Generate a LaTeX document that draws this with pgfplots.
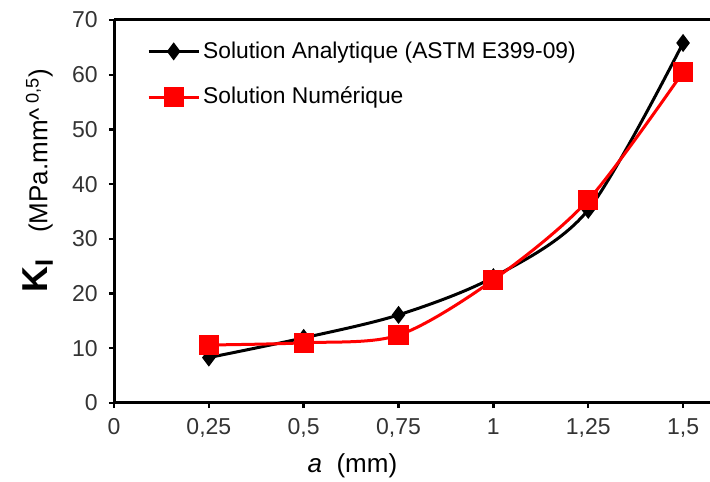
\documentclass[border=0pt]{standalone}
\usepackage{pgfplots}
\pgfplotsset{compat=1.18}
\usepackage{fontspec}
\setmainfont{Liberation Sans}

\begin{document}
\begin{tikzpicture}
\begin{axis}[
  scale only axis,
  width=298pt, height=191.5pt,
  xmin=0, xmax=1.571, ymin=0, ymax=70,
  axis x line*=box, axis y line*=left,
  xtick pos=bottom,
  xtick={0,0.25,0.5,0.75,1,1.25,1.5},
  ytick={0,10,20,30,40,50,60,70},
  tick align=outside, major tick length=2.6pt,
  every tick/.style={black, line width=1.2pt},
  axis line style={line width=1.5pt},
  /pgf/number format/use comma,
  /pgf/number format/assume math mode=true,
  tick label style={font=\fontsize{11.5}{13}\selectfont, text=black!80},
  xticklabel style={yshift=-1.5pt},
  yticklabel style={xshift=-2pt},
  xlabel={\textit{a}\ \ (mm)},
  xlabel style={at={(axis description cs:0.4,0)}, anchor=center, yshift=-31.5pt,
    font=\fontsize{13}{15}\selectfont},
  ylabel={{\fontsize{18}{18}\selectfont\bfseries K\textsubscript{I}}\quad (MPa.mm\textasciicircum\,\textsuperscript{0,5})},
  ylabel style={at={(axis description cs:-0.128,0.58)}, anchor=center,
    font=\fontsize{13}{15}\selectfont},
  legend style={at={(axis description cs:0.055,0.955)}, anchor=north west,
    draw=none, fill=none, font=\fontsize{11.4}{13}\selectfont, row sep=9pt,
    inner sep=0pt, nodes={inner xsep=1.5pt}},
  legend cell align=left,
  legend image code/.code={\draw[mark repeat=2,mark phase=2,#1]
    plot coordinates {(0pt,0pt) (12.5pt,0pt) (25pt,0pt)};},
]
\addplot[black, line width=1.5pt, smooth, mark=diamond*, mark size=3.3pt]
  coordinates {(0.25,8.3) (0.5,11.9) (0.75,16.1) (1,23.0) (1.25,35.3) (1.5,65.8)};
\addplot[red, line width=1.5pt, smooth, mark=square*, mark size=4.3pt]
  coordinates {(0.25,10.6) (0.5,11.0) (0.75,12.4) (1,22.5) (1.25,37.1) (1.5,60.5)};
\legend{Solution Analytique (ASTM E399-09), Solution Numérique}
\end{axis}
\pgfresetboundingbox
\path (current axis.south west) +(-57pt,-39.5pt);
\path (current axis.north east) +(0pt,10pt);
\end{tikzpicture}
\end{document}
